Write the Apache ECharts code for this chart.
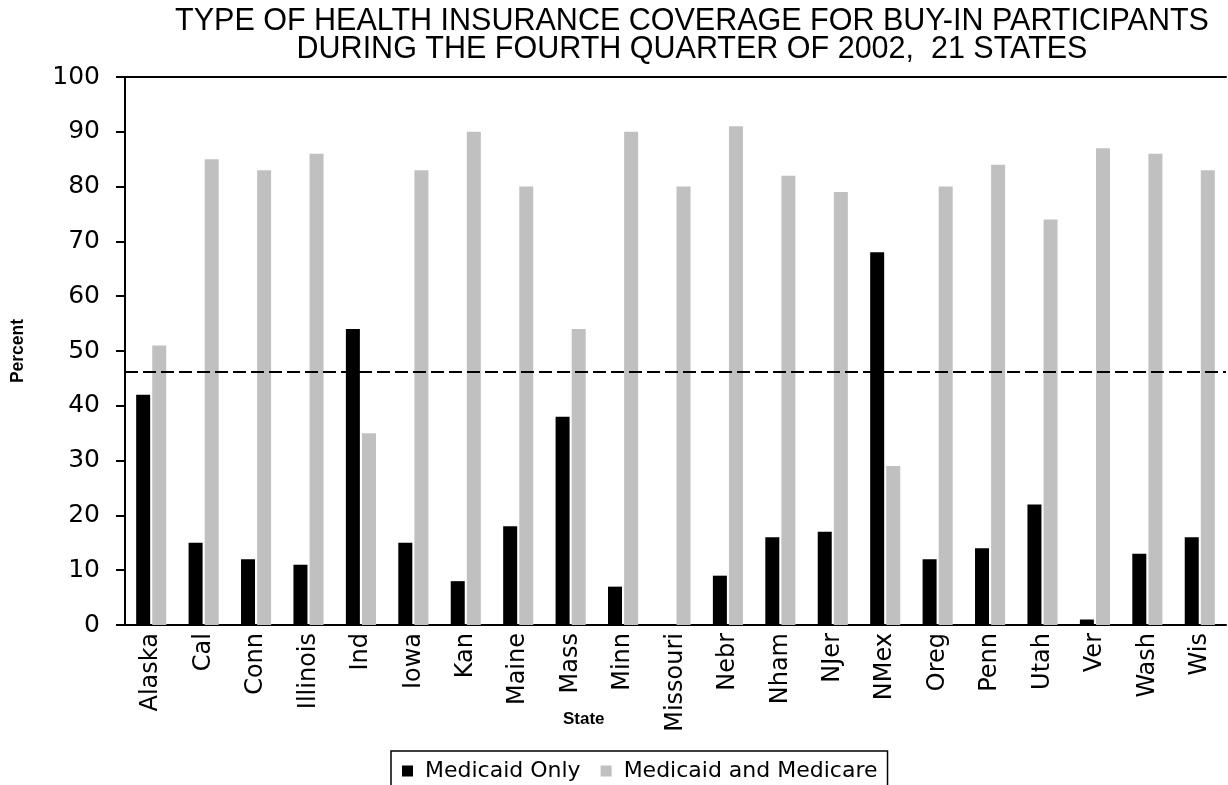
<!DOCTYPE html>
<html>
<head>
<meta charset="utf-8">
<script src="https://cdn.jsdelivr.net/npm/echarts@6/dist/echarts.min.js"></script>
<style>
	html, body { margin: 0; padding: 0; background: #fff; }
	#main { width: 1228px; height: 785px; }
</style>
</head>
<body>
<div id="main"></div>
<script>
	var states = ["Alaska", "Cal", "Conn", "Illinois", "Ind", "Iowa", "Kan", "Maine", "Mass", "Minn", "Missouri",
		"Nebr", "Nham", "NJer", "NMex", "Oreg", "Penn", "Utah", "Ver", "Wash", "Wis"]; //州
	var medicaidOnly = [42, 15, 12, 11, 54, 15, 8, 18, 38, 7, 0, 9, 16, 17, 68, 12, 14, 22, 1, 13, 16];
	var medicaidMedicare = [51, 85, 83, 86, 35, 83, 90, 80, 54, 90, 80, 91, 82, 79, 29, 80, 84, 74, 87, 86, 83];
	var averageLine = 46.3; //虚线
	var yTicks = [0, 100, 10]; //min, max, interval

	var chart = echarts.init(document.getElementById("main"));
	var font = "'Liberation Sans', Arial, sans-serif";
	var wideFont = "'DejaVu Sans', sans-serif"; //原图刻度字体较宽
	var option = {
		animation: false,
		textStyle: { fontFamily: font, color: '#000' },
		title: {
			text: 'TYPE OF HEALTH INSURANCE COVERAGE FOR BUY-IN PARTICIPANTS\nDURING THE FOURTH QUARTER OF 2002,  21 STATES',
			left: 687,
			top: 3,
			textAlign: 'center',
			textStyle: { fontFamily: font, fontSize: 30.5, fontWeight: 'normal', color: '#000', lineHeight: 28 }
		},
		legend: {
			left: 391,
			top: 751,
			data: ['Medicaid Only', 'Medicaid and Medicare'],
			icon: 'rect',
			itemWidth: 11,
			itemHeight: 11,
			itemGap: 20,
			borderColor: '#000',
			borderWidth: 1.5,
			padding: [9, 10, 12, 11],
			textStyle: { fontFamily: wideFont, fontSize: 22, color: '#000', padding: [0, 0, 0, 7] }
		},
		grid: { left: 125, right: 2, top: 77, bottom: 160, containLabel: false },
		xAxis: [{
			type: 'category',
			data: states,
			axisLine: { lineStyle: { color: '#000', width: 2 } },
			axisTick: { length: 8, lineStyle: { color: '#000', width: 2 } },
			axisLabel: { rotate: 90, fontFamily: wideFont, fontSize: 24, color: '#000', margin: 8, interval: 0 }
		}, {
			type: 'category',
			data: states,
			position: 'top',
			axisLine: { lineStyle: { color: '#000', width: 2 } },
			axisTick: { show: false },
			axisLabel: { show: false }
		}],
		yAxis: {
			type: 'value',
			min: yTicks[0],
			max: yTicks[1],
			interval: yTicks[2],
			name: 'Percent',
			nameLocation: 'middle',
			nameRotate: 90,
			nameGap: 98,
			nameTextStyle: { fontSize: 17.5, fontWeight: 'bold', color: '#000' },
			axisLine: { show: true, lineStyle: { color: '#000', width: 2 } },
			axisTick: { show: true, length: 9, lineStyle: { color: '#000', width: 2 } },
			axisLabel: { fontFamily: wideFont, fontSize: 25, color: '#000', margin: 25 },
			splitLine: { show: false }
		},
		graphic: [{
			type: 'text',
			left: 563,
			top: 711,
			style: { text: 'State', font: "bold 17px 'Liberation Sans', Arial, sans-serif", fill: '#000' }
		}],
		series: [{
			name: 'Medicaid Only',
			type: 'bar',
			data: medicaidOnly,
			barWidth: 14,
			barGap: '15%',
			itemStyle: { color: '#000' },
			markLine: {
				silent: true,
				symbol: 'none',
				label: { show: false },
				lineStyle: { color: '#000', type: [13, 5], width: 2 },
				data: [{ yAxis: averageLine }]
			}
		}, {
			name: 'Medicaid and Medicare',
			type: 'bar',
			data: medicaidMedicare,
			barWidth: 14,
			itemStyle: { color: '#c0c0c0' }
		}]
	};
	chart.setOption(option);
</script>
</body>
</html>
